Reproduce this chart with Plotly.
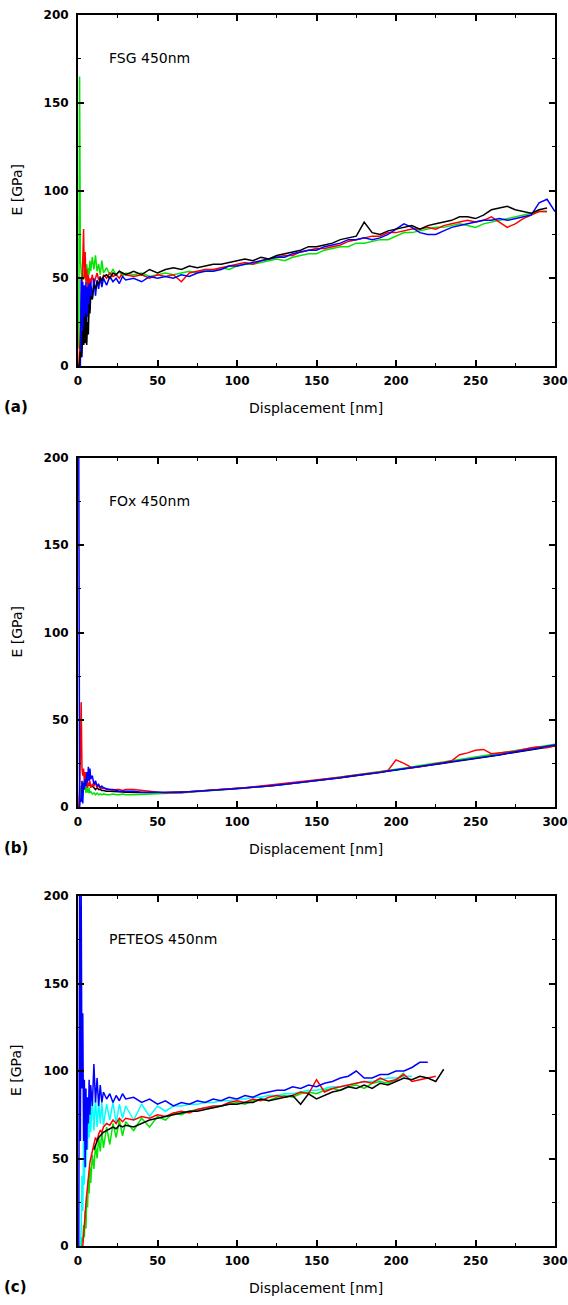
import plotly.graph_objects as go

W, H = 568, 1305

# Displacement grid [nm]: fine near the surface, then every 5 nm
displacement = [0.5, 1, 1.5, 2, 2.5, 3, 3.5, 4, 4.5, 5, 5.5, 6, 6.5, 7, 7.5, 8,
                9, 10, 11, 12, 13, 14, 15, 16, 18, 20, 22, 24, 26, 28, 30] + list(range(35, 301, 5))

# ---- (a) FSG 450 nm : modulus E [GPa] ----
fsg_black = [0, 2, 8, 5, 10, 20, 12, 28, 13, 30, 12, 25, 18, 35, 30, 40, 38, 46, 44, 48, 47, 50, 49, 51, 52, 50, 53, 52, 54, 53, 52,
             54, 52, 55, 53, 55, 56, 55, 57, 56, 57, 58, 58, 59, 60, 61, 60, 62, 61, 63, 64, 65, 66, 68, 68, 69,
             70, 72, 73, 74, 82, 76, 75, 77, 78, 79, 80, 78, 80, 81, 82, 83, 85, 85, 84, 86, 89, 90, 91, 89, 88,
             87, 89, 90, None]
fsg_red = [0, 8, 20, 35, 45, 60, 78, 50, 65, 48, 55, 45, 52, 44, 50, 47, 52, 46, 50, 53, 49, 51, 46, 52, 50, 53, 51, 52, 50, 53, 52,
           51, 52, 50, 52, 51, 52, 48, 53, 54, 55, 55, 56, 57, 58, 59, 58, 60, 61, 62, 63, 63, 65, 66, 67, 67,
           68, 69, 71, 72, 73, 74, 74, 76, 76, 77, 78, 78, 79, 78, 80, 81, 82, 83, 82, 83, 85, 82, 79, 81, 84,
           86, 88, 88, None]
fsg_green = [10, 165, 60, 50, 48, 52, 49, 55, 50, 52, 58, 50, 56, 52, 60, 54, 62, 55, 63, 54, 58, 52, 60, 53, 56, 52, 55, 52, 54, 51, 53,
             52, 53, 51, 52, 53, 52, 53, 54, 53, 55, 54, 56, 55, 57, 58, 58, 59, 60, 61, 60, 62, 63, 64, 64, 66,
             67, 68, 68, 70, 70, 71, 72, 72, 74, 76, 76, 77, 78, 79, 79, 80, 81, 80, 79, 81, 82, 83, 84, 85, 86,
             87, 88, 88, None]
fsg_blue = [0, 0, 0, 50, 5, 48, 12, 46, 18, 48, 22, 45, 28, 47, 32, 48, 38, 50, 40, 49, 44, 51, 45, 50, 46, 51, 48, 50, 47, 51, 49,
            50, 48, 51, 50, 51, 50, 52, 51, 53, 54, 54, 55, 57, 57, 58, 59, 60, 61, 62, 62, 64, 65, 66, 66, 68,
            69, 70, 72, 72, 73, 72, 73, 75, 78, 81, 79, 76, 75, 75, 77, 79, 80, 81, 82, 83, 83, 84, 83, 84, 85,
            86, 93, 95, 88]

# ---- (b) FOx 450 nm ----
N = None
fox_black = [N, N, N, N, N, N, N, N, N, N, N, N, N, N, N, N, 12, 11, 10, 11, 10, 10, 9.5, 9.5, 9, 9, 9, 8.8, 8.8, 8.6, 8.5,
             8.5, 8.3, 8.2, 8, 8.3, 8.4, 8.6, 8.7, 9, 9.2, 9.6, 10, 10.3, 10.6, 10.9, 11.2, 11.5, 12, 12.4, 12.9,
             13.4, 14, 14.5, 15, 15.6, 16.2, 16.8, 17.4, 18, 18.6, 19.2, 19.8, 20.4, 21, 21.8, 22.4, 23, 23.7, 24.3, 25,
             25.8, 26.4, 27.2, 27.8, 28.5, 29.2, 29.8, 30.6, 31.4, 32, 32.8, 33.6, 34.4, 35]
fox_green = [0, 5, 12, 3, 14, 8, 15, 10, 13, 8, 12, 9, 8, 11, 8, 9, 7.5, 8, 7, 8, 7, 7.5, 7, 7.5, 7, 7, 7.5, 7, 7, 7.5, 7,
             7, 7.2, 7, 7.5, 7.8, 8, 8.2, 8.5, 8.8, 9.2, 9.5, 9.9, 10.2, 10.6, 11, 11.3, 11.8, 12.2, 12.6, 13.2,
             13.6, 14.2, 14.8, 15.3, 16, 16.5, 17.2, 17.8, 18.4, 19.2, 19.8, 20.4, 21, 21.6, 22.4, 23, 23.8, 24.4, 25, 25.8,
             26.5, 27.2, 28, 28.6, 29.3, 30, 30.8, 31.6, 32.4, 33.2, 34, 34.8, 35.6, 36]
fox_red = [0, 10, 30, 60, 22, 18, 22, 14, 20, 12, 16, 11, 14, 12, 15, 11, 13, 12, 14, 11, 12, 11, 10.5, 11, 10, 10, 9.5, 10, 10, 9.5, 10,
           10, 9.5, 9, 8.5, 8, 8.3, 8.2, 8.8, 9.2, 9.5, 9.8, 10, 10.5, 10.8, 11, 11.5, 12, 12.3, 12.8, 13.2,
           13.8, 14.3, 14.8, 15.5, 16, 16.6, 17, 17.8, 18.3, 19, 19.5, 20, 21, 27, 25, 22.5, 23, 24, 24.8, 25.5,
           26.5, 30, 31, 32.5, 33, 30.5, 31, 31.5, 32, 33, 34, 34.5, 34, 35.3]
fox_blue = [200, 0, 5, 3, 15, 2, 14, 10, 16, 12, 20, 14, 23, 15, 22, 16, 18, 13, 15, 12, 13, 11, 12, 11, 10.5, 10, 10, 9.5, 9, 9, 9,
            9, 8.5, 8.5, 8.3, 8.3, 8.5, 8.5, 8.8, 9, 9.3, 9.5, 9.8, 10.2, 10.5, 10.8, 11.2, 11.6, 12, 12.5, 13,
            13.4, 14, 14.6, 15, 15.7, 16.3, 16.8, 17.5, 18, 18.8, 19.3, 19.8, 20.6, 21.2, 21.8, 22.6, 23.2, 23.8, 24.5, 25.2,
            26, 26.6, 27.3, 28, 28.6, 29.3, 30, 30.8, 31.5, 32.2, 33, 33.8, 34.8, 35.5]

# ---- (c) PETEOS 450 nm ----
pet_green = [N, N, N, 0, 5, 2, 12, 5, 20, 10, 28, 22, 38, 30, 45, 36, 52, 44, 58, 50, 62, 54, 66, 56, 68, 58, 70, 62, 72, 63, 71,
             66, 73, 68, 74, 72, 76, 75, 77, 78, 79, 79, 80, 81, 82, 81, 83, 84, 83, 85, 86,
             85, 87, 88, 87, 89, 90, 89, 91, 92, 90, 93, 94, 93, 95, 99, N, N, N, N, N,
             N, N, N, N, N, N, N, N, N, N, N, N, N, N]
pet_red = [N, N, N, N, N, 0, 5, 10, 18, 25, 30, 35, 40, 44, 48, 50, 55, 58, 62, 60, 64, 66, 65, 68, 70, 69, 72, 70, 73, 71, 73,
           72, 74, 73, 75, 74, 76, 77, 76, 78, 79, 80, 80, 82, 83, 82, 84, 83, 85, 86, 85,
           86, 88, 87, 95, 88, 90, 91, 92, 93, 94, 93, 96, 94, 95, 98, 94, 95, 96, 97, N,
           N, N, N, N, N, N, N, N, N, N, N, N, N, N]
pet_black = [N, N, N, N, N, N, N, N, N, N, N, N, N, N, N, N, N, 55, 58, 60, 62, 63, 64, 65, 66, 67, 68, 67, 69, 68, 69,
             68, 70, 72, 73, 74, 75, 76, 77, 77, 78, 79, 80, 81, 81, 82, 82, 84, 83, 84, 85,
             86, 81, 87, 84, 86, 88, 89, 91, 90, 92, 90, 93, 92, 94, 96, 95, 97, 96, 94, 101,
             N, N, N, N, N, N, N, N, N, N, N, N, N, N]
pet_cyan = [N, N, 0, 10, 40, 20, 60, 35, 70, 45, 78, 55, 80, 62, 84, 65, 85, 66, 84, 68, 83, 70, 82, 69, 81, 72, 82, 70, 81, 73, 80,
            72, 81, 74, 80, 77, 80, 80, 81, 81, 82, 82, 83, 83, 84, 84, 85, 85, 86, 86, 87,
            87, 88, 89, 89, 90, 91, 91, 92, 93, 94, 94, 95, 96, 96, 97, 97, N, N, N, N,
            N, N, N, N, N, N, N, N, N, N, N, N, N, N]
pet_blue = [0, 200, 60, 200, 90, 133, 60, 95, 45, 90, 55, 85, 70, 95, 75, 92, 80, 104, 82, 96, 80, 92, 82, 88, 84, 87, 82, 86, 83, 87, 84,
            85, 82, 84, 81, 83, 80, 82, 81, 83, 82, 84, 83, 85, 84, 86, 85, 87, 88, 89, 89,
            91, 90, 92, 91, 93, 94, 96, 97, 100, 96, 96, 98, 98, 100, 100, 102, 105, 105, N, N,
            N, N, N, N, N, N, N, N, N, N, N, N, N, N]

tick_vals = [0, 50, 100, 150, 200, 250, 300]
tick_text = ["0", "50", "100", "150", "200", "250", "300"]
ytick_vals = [0, 50, 100, 150, 200]
ytick_text = ["0", "50", "100", "150", "200"]

BLACK, RED, GREEN, BLUE, CYAN = "#000000", "#ff0000", "#00e600", "#0000ff", "#00ffff"

panels = [
    # (sample label, panel letter, top px, bottom px, traces in drawing order)
    ("FSG 450nm", "(a)", 15, 366, [(fsg_green, GREEN), (fsg_red, RED), (fsg_blue, BLUE), (fsg_black, BLACK)]),
    ("FOx 450nm", "(b)", 458, 807, [(fox_black, BLACK), (fox_green, GREEN), (fox_red, RED), (fox_blue, BLUE)]),
    ("PETEOS 450nm", "(c)", 896, 1246, [(pet_green, GREEN), (pet_cyan, CYAN), (pet_red, RED), (pet_black, BLACK), (pet_blue, BLUE)]),
]

LEFT, RIGHT = 78, 555


def px(x):
    return x / W


def py(y):
    return 1 - y / H


fig = go.Figure()
annotations = []
FONT = "DejaVu Sans"

for i, (label, letter, top, bottom, traces) in enumerate(panels, start=1):
    xa = "x" if i == 1 else f"x{i}"
    ya = "y" if i == 1 else f"y{i}"
    for values, color in traces:
        fig.add_trace(go.Scatter(
            x=displacement, y=values, mode="lines", xaxis=xa, yaxis=ya,
            line=dict(color=color, width=1.5), showlegend=False, connectgaps=False,
        ))
    axis_common = dict(
        showline=True, linecolor="black", linewidth=2, mirror="allticks",
        ticks="inside", ticklen=6, tickwidth=1.5, tickcolor="black",
        showgrid=False, zeroline=False, automargin=False,
        tickfont=dict(family=FONT, size=12, color="black", weight="bold"),
        minor=dict(ticks="inside", ticklen=3, tickwidth=1.2, tickcolor="black", dtick=25, showgrid=False),
    )
    fig.update_layout({
        f"xaxis{'' if i == 1 else i}": dict(
            axis_common, domain=[px(LEFT), px(RIGHT)], range=[0, 300], anchor=ya,
            tickmode="array", tickvals=tick_vals, ticktext=tick_text, ticklabelstandoff=3,
        ),
        f"yaxis{'' if i == 1 else i}": dict(
            axis_common, domain=[py(bottom), py(top)], range=[0, 200], anchor=xa,
            tickmode="array", tickvals=ytick_vals, ticktext=ytick_text, ticklabelstandoff=5,
        ),
    })
    annotations += [
        dict(text=label, x=px(107), y=py(top + 43), xref="paper", yref="paper",
             xanchor="left", yanchor="middle", showarrow=False,
             font=dict(family=FONT, size=14, color="black")),
        dict(text="E [GPa]", x=px(16), y=py((top + bottom) / 2), xref="paper", yref="paper",
             textangle=-90, xanchor="center", yanchor="middle", showarrow=False,
             font=dict(family=FONT, size=14, color="black")),
        dict(text="Displacement [nm]", x=px(316), y=py(bottom + 42), xref="paper", yref="paper",
             xanchor="center", yanchor="middle", showarrow=False,
             font=dict(family=FONT, size=14, color="black")),
        dict(text=f"<b>{letter}</b>", x=px(2), y=py(bottom + 41), xref="paper", yref="paper",
             xanchor="left", yanchor="middle", showarrow=False,
             font=dict(family=FONT, size=15, color="black")),
    ]

fig.update_layout(
    template="none",
    width=W, height=H, margin=dict(l=0, r=0, t=0, b=0, autoexpand=False),
    paper_bgcolor="white", plot_bgcolor="white",
    annotations=annotations,
)

fig.write_html("out.html")
